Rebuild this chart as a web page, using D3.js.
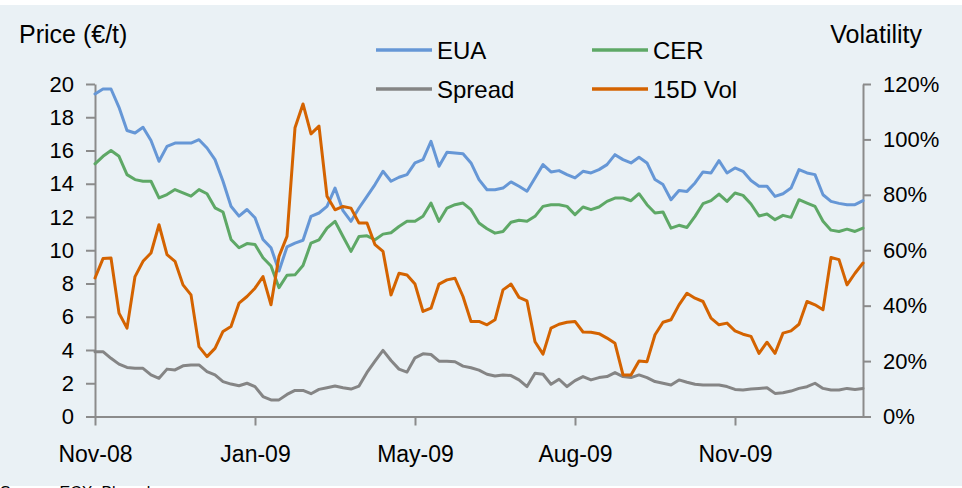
<!DOCTYPE html>
<html>
<head>
<meta charset="utf-8">
<script src="https://cdn.jsdelivr.net/npm/d3@7"></script>
<style>
  body { margin: 0; background: #fff; }
  text { font-family: "Liberation Sans", Arial, sans-serif; fill: #000; }
  .axis path, .axis line { stroke: #8b8b8b; stroke-width: 2; }
  .axis text { font-size: 22px; }
  .series { fill: none; stroke-width: 3; stroke-linejoin: round; stroke-linecap: round; }
</style>
</head>
<body>
<div id="chart"></div>
<script>
// x axis is in trading days, one sample every 3 days
var tickDays = [0, 60, 120, 180, 240];
var tickLabels = ["Nov-08", "Jan-09", "May-09", "Aug-09", "Nov-09"];
var totalDays = 288;
var sampleStep = 3;

var priceTicks = [0, 2, 4, 6, 8, 10, 12, 14, 16, 18, 20];
var volTicks = [0, 0.2, 0.4, 0.6, 0.8, 1.0, 1.2];

var eua = [19.4, 19.7, 19.7, 18.6, 17.2, 17.05, 17.4, 16.6, 15.35, 16.25, 16.45, 16.45, 16.45, 16.65, 16.15, 15.45,
  14.15, 12.65, 12.05, 12.45, 11.95, 10.65, 10.15, 8.75, 10.2, 10.43, 10.6, 12.04, 12.24, 12.64, 13.74, 12.38,
  11.74, 12.54, 13.24, 13.95, 14.75, 14.15, 14.39, 14.55, 15.25, 15.45, 16.55, 15.05, 15.89, 15.85, 15.81, 15.25,
  14.25, 13.64, 13.64, 13.74, 14.11, 13.85, 13.55, 14.35, 15.15, 14.71, 14.79, 14.55, 14.35, 14.75, 14.65, 14.85,
  15.15, 15.75, 15.45, 15.25, 15.59, 15.25, 14.25, 13.95, 13.04, 13.6, 13.54, 14.05, 14.71, 14.65, 15.39, 14.65,
  14.95, 14.75, 14.19, 13.85, 13.85, 13.24, 13.4, 13.74, 14.85, 14.65, 14.55, 13.34, 12.94, 12.82, 12.74, 12.74, 12.98];

var cer = [15.2, 15.65, 16.0, 15.65, 14.55, 14.25, 14.15, 14.15, 13.15, 13.35, 13.65, 13.45, 13.25, 13.65, 13.4, 12.55,
  12.3, 10.65, 10.15, 10.4, 10.35, 9.55, 9.05, 7.75, 8.5, 8.52, 9.08, 10.43, 10.63, 11.33, 11.74, 10.83,
  9.93, 10.83, 10.87, 10.63, 10.97, 11.05, 11.43, 11.74, 11.74, 12.04, 12.84, 11.74, 12.54, 12.74, 12.84, 12.44,
  11.64, 11.29, 11.03, 11.13, 11.68, 11.8, 11.74, 12.04, 12.64, 12.74, 12.74, 12.64, 12.14, 12.6, 12.44, 12.6,
  12.94, 13.14, 13.14, 12.98, 13.4, 12.74, 12.24, 12.3, 11.33, 11.5, 11.37, 12.04, 12.8, 12.98, 13.38, 12.94,
  13.44, 13.3, 12.78, 12.06, 12.18, 11.84, 12.1, 11.98, 13.04, 12.84, 12.64, 11.74, 11.21, 11.13, 11.27, 11.13, 11.33];

var spread = [3.9, 3.9, 3.5, 3.15, 2.95, 2.9, 2.9, 2.5, 2.3, 2.85, 2.8, 3.05, 3.1, 3.1, 2.7, 2.5,
  2.1, 1.95, 1.85, 2.0, 1.8, 1.2, 1.0, 1.0, 1.33, 1.57, 1.57, 1.37, 1.63, 1.73, 1.83, 1.73,
  1.65, 1.83, 2.65, 3.33, 3.98, 3.37, 2.85, 2.67, 3.53, 3.77, 3.73, 3.33, 3.33, 3.29, 3.03, 2.93,
  2.79, 2.54, 2.44, 2.5, 2.46, 2.2, 1.8, 2.6, 2.54, 1.94, 2.24, 1.8, 2.16, 2.4, 2.2, 2.34,
  2.4, 2.64, 2.4, 2.34, 2.5, 2.34, 2.1, 2.0, 1.9, 2.2, 2.06, 1.94, 1.9, 1.9, 1.9, 1.8,
  1.63, 1.59, 1.65, 1.69, 1.73, 1.39, 1.43, 1.53, 1.69, 1.79, 2.0, 1.69, 1.59, 1.59, 1.69, 1.63, 1.69];

var vol15d = [50, 57, 57.2, 37.3, 31.9, 50.5, 56, 59, 69.2, 58.4, 56, 47.5, 43.9, 25.2, 21.6, 24.6,
  30.7, 32.5, 40.9, 43.3, 46.3, 50.5, 40.3, 57.8, 65, 104.2, 112.8, 102, 104.8, 79.5, 74.6, 75.8,
  75.2, 69.8, 69.8, 62, 59.6, 43.9, 51.7, 51.1, 47.8, 37.9, 39.1, 47.8, 49.3, 49.9, 43.3, 34.3,
  34.3, 33.1, 34.9, 45.7, 47.8, 43, 41.7, 27, 22.5, 31.9, 33.3, 34, 34.3, 30.5, 30.4, 29.9,
  28.3, 26.4, 15, 15, 20, 19.8, 29.5, 34, 34.9, 40.3, 44.5, 42.7, 41.5, 35.5, 33.1, 33.7,
  30.9, 29.7, 28.9, 22.8, 26.8, 22.8, 30.1, 30.9, 33.3, 41.5, 40.3, 38.5, 57.4, 56.6, 47.5, 51.7, 55.4];

var width = 962, height = 488;
var plotLeft = 95, plotRight = 863, plotTop = 84, plotBottom = 416.5;

var svg = d3.select("#chart").append("svg")
  .attr("width", width)
  .attr("height", height);

svg.append("rect")
  .attr("x", 0).attr("y", 5)
  .attr("width", width).attr("height", 481)
  .attr("fill", "#eaf1f5");

var x = d3.scaleLinear().domain([0, totalDays]).range([plotLeft, plotRight]);
var yPrice = d3.scaleLinear().domain([0, 20]).range([plotBottom, plotTop]);
var yVol = d3.scaleLinear().domain([0, 1.2]).range([plotBottom, plotTop]);

// axes
svg.append("g")
  .attr("class", "axis")
  .attr("transform", "translate(" + plotLeft + ",0)")
  .call(d3.axisLeft(yPrice).tickValues(priceTicks).tickSize(9).tickSizeOuter(0).tickPadding(12));

svg.append("g")
  .attr("class", "axis")
  .attr("transform", "translate(" + plotRight + ",0)")
  .call(d3.axisRight(yVol).tickValues(volTicks).tickSize(8).tickSizeOuter(0).tickPadding(12)
    .tickFormat(d3.format(".0%")));

svg.append("g")
  .attr("class", "axis xaxis")
  .attr("transform", "translate(0," + plotBottom + ")")
  .call(d3.axisBottom(x).tickValues(tickDays).tickSize(9).tickSizeOuter(0).tickPadding(20)
    .tickFormat(function (d, i) { return tickLabels[i]; }));

svg.selectAll(".xaxis text").style("font-size", "23px");
svg.selectAll(".axis text").attr("fill", "#000");

var series = [
  { name: "EUA", values: eua, color: "#6697d6", y: yPrice, scale: 1 },
  { name: "CER", values: cer, color: "#5ea866", y: yPrice, scale: 1 },
  { name: "Spread", values: spread, color: "#858585", y: yPrice, scale: 1 },
  { name: "15D Vol", values: vol15d, color: "#d46300", y: yVol, scale: 0.01 }
];

series.forEach(function (s) {
  var line = d3.line()
    .x(function (d, i) { return x(i * sampleStep); })
    .y(function (d) { return s.y(d * s.scale); });
  svg.append("path")
    .datum(s.values)
    .attr("class", "series")
    .attr("stroke", s.color)
    .attr("d", line);
});

// titles
svg.append("text").attr("x", 19).attr("y", 43).style("font-size", "25px").text("Price (€/t)");
svg.append("text").attr("x", 922).attr("y", 43).attr("text-anchor", "end").style("font-size", "25px").text("Volatility");

// legend, 2 x 2
var legendPos = [[376, 50], [592, 50], [376, 89], [592, 89]];
series.forEach(function (s, j) {
  var p = legendPos[j];
  svg.append("line")
    .attr("x1", p[0]).attr("x2", p[0] + 56)
    .attr("y1", p[1]).attr("y2", p[1])
    .attr("stroke", s.color).attr("stroke-width", 3.5);
  svg.append("text")
    .attr("x", p[0] + 61).attr("y", p[1] + 9)
    .style("font-size", "24px")
    .text(s.name);
});

svg.append("text")
  .attr("x", 0).attr("y", 498)
  .style("font-size", "16px").attr("fill", "#444")
  .text("Source: ECX, Bloomberg");
</script>
</body>
</html>
